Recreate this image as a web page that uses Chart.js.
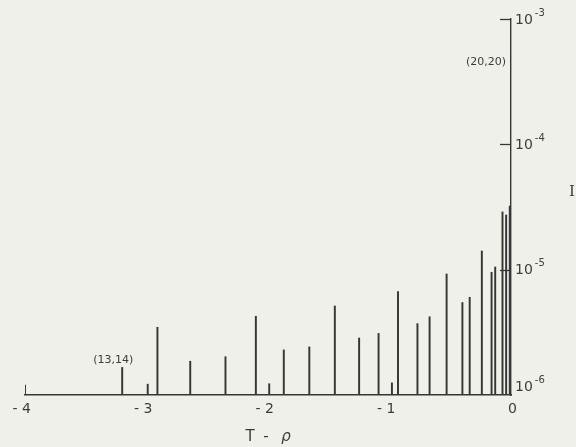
<!DOCTYPE html>
<html><head><meta charset="utf-8">
<script src="https://cdn.jsdelivr.net/npm/chart.js@4/dist/chart.umd.min.js"></script>
<style>html,body{margin:0;padding:0;background:#f0f0eb;} #wrap{width:576px;height:447px;position:relative;}</style>
</head><body><div id="wrap"><canvas id="c" width="576" height="447"></canvas></div>
<script>
// ---- data ----
const positions = [-4.00,-3.20,-2.99,-2.91,-2.64,-2.35,-2.10,-1.99,-1.87,-1.66,-1.45,-1.25,-1.09,-0.98,-0.93,-0.77,-0.67,-0.53,-0.40,-0.34,-0.24,-0.16,-0.13,-0.07,-0.04,-0.01,0.00];
const intensities = [1.20e-6,1.66e-6,1.22e-6,3.47e-6,1.86e-6,2.02e-6,4.25e-6,1.23e-6,2.29e-6,2.42e-6,5.13e-6,2.85e-6,3.10e-6,1.25e-6,6.70e-6,3.71e-6,4.21e-6,9.24e-6,5.47e-6,6.02e-6,1.41e-5,9.53e-6,1.05e-5,2.89e-5,2.73e-5,3.22e-5,5.0e-4];
const xTicks = [-4,-3,-2,-1,0];
const xTickLabels = ['- 4','- 3','- 2','- 1','0'];
const yTicks = [1e-6,1e-5,1e-4,1e-3];
const yTickBase = '10';
const yTickExps = ['-6','-5','-4','-3'];
const lineLabels = ['(13,14)','(20,20)'];
const lineLabelX = [-3.20, 0.00];
const lineLabelY = [1.66e-6, 5.0e-4];
const xTitleParts = ['T','-','ρ'];
const yTitle = 'I';
const baseLevel = 1e-6;

const INK = '#363636';
const TEXT = '#3c3c3c';
const FONT = '"DejaVu Sans", sans-serif';

const deco = {
  id: 'deco',
  beforeDraw(chart) {
    const ctx = chart.ctx;
    ctx.save(); ctx.fillStyle = '#f0f0eb'; ctx.fillRect(0,0,chart.width,chart.height); ctx.restore();
  },
  afterDraw(chart) {
    const ctx = chart.ctx, ca = chart.chartArea;
    const xs = chart.scales.x, ys = chart.scales.y;
    ctx.save();
    ctx.strokeStyle = INK; ctx.fillStyle = TEXT; ctx.lineWidth = 1.3;
    // y tick marks (inside, on the left of the axis)
    yTicks.forEach((v,i) => {
      if (i === 0) return;
      const py = Math.round(ys.getPixelForValue(v)) + 0.5;
      ctx.beginPath(); ctx.moveTo(ca.right - 11, py); ctx.lineTo(ca.right, py); ctx.stroke();
    });
    // y tick labels with superscript
    yTicks.forEach((v,i) => {
      const py = ys.getPixelForValue(v) + (i === 0 ? -8 : 1);
      ctx.textAlign = 'left'; ctx.textBaseline = 'middle';
      ctx.font = '14px ' + FONT;
      const x0 = ca.right + 4;
      ctx.fillText(yTickBase, x0, py);
      const w = ctx.measureText(yTickBase).width;
      ctx.font = '10px ' + FONT;
      ctx.fillText(yTickExps[i], x0 + w + 2, py - 7);
    });
    // line labels
    ctx.font = '11px ' + FONT; ctx.textBaseline = 'middle';
    lineLabels.forEach((t,i) => {
      const px = xs.getPixelForValue(lineLabelX[i]);
      const py = ys.getPixelForValue(lineLabelY[i]);
      if (i === 0) { ctx.textAlign = 'center'; ctx.fillText(t, px - 9, py - 7); }
      else { ctx.textAlign = 'right'; ctx.fillText(t, px - 5, py + 5); }
    });
    // x title
    const cx = (ca.left + ca.right) / 2;
    const ty = ca.bottom + 42;
    ctx.textAlign = 'center';
    ctx.font = '15px ' + FONT;
    ctx.fillText(xTitleParts[0], cx - 18, ty);
    ctx.fillText(xTitleParts[1], cx - 2, ty);
    ctx.font = 'italic 15px ' + FONT;
    ctx.fillText(xTitleParts[2], cx + 18, ty);
    // y title
    ctx.font = '15px "DejaVu Serif", serif';
    ctx.fillText(yTitle, ca.right + 61, ca.top + 173);
    ctx.restore();
  }
};

new Chart(document.getElementById('c'), {
  type: 'bar',
  data: {
    datasets: [{
      data: positions.map((p,i) => ({x: p, y: [baseLevel, intensities[i]]})),
      backgroundColor: INK,
      borderWidth: 0,
      barThickness: 1.3,
      grouped: false
    }]
  },
  options: {
    responsive: false,
    animation: false,
    devicePixelRatio: 1,
    layout: { padding: { left: 25, top: 19, right: 0, bottom: 0 } },
    plugins: { legend: { display: false }, tooltip: { enabled: false } },
    scales: {
      x: {
        type: 'linear', min: -4, max: 0, offset: false,
        grid: { display: false, drawTicks: false },
        border: { display: true, color: INK, width: 1.4 },
        afterBuildTicks: s => { s.ticks = xTicks.map(v => ({value: v})); },
        afterFit: s => { s.height = 52; },
        ticks: {
          autoSkip: false, maxRotation: 0, padding: 6, align: 'end', labelOffset: 6,
          color: TEXT, font: { family: 'DejaVu Sans', size: 14 },
          callback: (v, i) => xTickLabels[i]
        }
      },
      y: {
        type: 'logarithmic', position: 'right', min: 1e-6, max: 1e-3,
        grid: { display: false, drawTicks: false },
        border: { display: true, color: INK, width: 1.4 },
        afterBuildTicks: s => { s.ticks = yTicks.map(v => ({value: v})); },
        afterFit: s => { s.width = 65; },
        ticks: { display: false }
      }
    }
  },
  plugins: [deco]
});
</script>
</body></html>
